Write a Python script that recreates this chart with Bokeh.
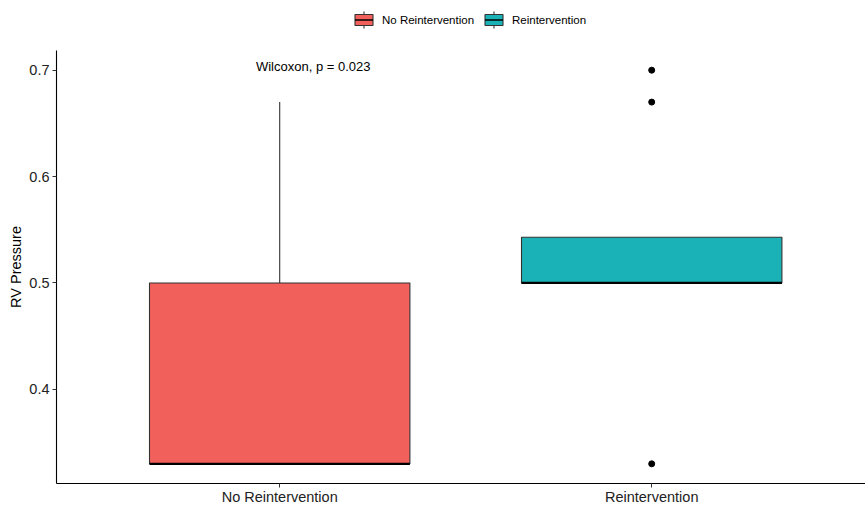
from bokeh.plotting import figure
from bokeh.layouts import column
from bokeh.models import ColumnDataSource, FixedTicker, Range1d
from bokeh.embed import file_html
from bokeh.resources import INLINE
from bokeh.core.properties import value

# ---- data ----
groups = ["No Reintervention", "Reintervention"]
group_pos = [1, 2]
q1 = [0.33, 0.50]
median = [0.33, 0.50]
q3 = [0.50, 0.543]
whisker_low = [0.33, 0.50]
whisker_high = [0.67, 0.543]
colors = ["#F2605B", "#1AB2B7"]
outlier_group = [2, 2, 2]
outlier_value = [0.70, 0.67, 0.33]
y_ticks = [0.4, 0.5, 0.6, 0.7]
annotation = "Wilcoxon, p = 0.023"

FONT = "Liberation Sans"
box_w = 0.70
W = 865
LEFT = 56

# ---------------- legend strip (pixel coordinates; frame aligned with main plot) ----------------
leg = figure(width=W, height=50, output_backend="svg", toolbar_location=None,
             x_range=Range1d(LEFT, W), y_range=Range1d(50, 0),
             min_border=0, x_axis_location=None, y_axis_location=None)
leg.outline_line_color = None
leg.xgrid.visible = False
leg.ygrid.visible = False
key_x = [363.5, 493.5]
key_y = 19.5
lsrc = ColumnDataSource(dict(x=key_x, y=[key_y] * 2, color=colors, label=groups,
                             x0=[k - 9 for k in key_x], x1=[k + 9 for k in key_x],
                             tx=[k + 18 for k in key_x]))
leg.segment(x0="x", y0=key_y - 8.5, x1="x", y1=key_y + 8.5, source=lsrc,
            line_color="#333333", line_width=1.1)
leg.rect(x="x", y="y", width=18, height=11, source=lsrc, fill_color="color",
         line_color="#333333", line_width=1.1)
leg.segment(x0="x0", y0="y", x1="x1", y1="y", source=lsrc, line_color="black", line_width=1.6)
leg.text(x="tx", y="y", text="label", source=lsrc, text_baseline="middle", text_align="left",
         text_font=value(FONT), text_font_size="11.5px", text_color="black")

# ---------------- main plot ----------------
p = figure(width=W, height=457, output_backend="svg", toolbar_location=None,
           x_range=Range1d(0.4, 2.5747), y_range=Range1d(0.3115, 0.7185),
           min_border_left=LEFT, min_border_right=0, min_border_top=0, min_border_bottom=22)
p.outline_line_color = None
p.background_fill_color = "white"
p.xgrid.visible = False
p.ygrid.visible = False

src = ColumnDataSource(dict(x=group_pos, q1=q1, med=median, q3=q3,
                            lo=whisker_low, hi=whisker_high, color=colors, name=groups,
                            mx0=[g - box_w / 2 for g in group_pos],
                            mx1=[g + box_w / 2 for g in group_pos]))

p.segment(x0="x", y0="q3", x1="x", y1="hi", source=src, line_color="#333333", line_width=1.1)
p.segment(x0="x", y0="lo", x1="x", y1="q1", source=src, line_color="#333333", line_width=1.1)
p.vbar(x="x", top="q3", bottom="q1", width=box_w, source=src,
       fill_color="color", line_color="#333333", line_width=1.1)
p.segment(x0="mx0", y0="med", x1="mx1", y1="med", source=src, line_color="black", line_width=2.2)

p.scatter(x=outlier_group, y=outlier_value, size=6, color="black")

p.text(x=[1.09], y=[0.703], text=[annotation], text_align="center", text_baseline="middle",
       text_font=value(FONT), text_font_size="13px", text_color="black")

p.xaxis.ticker = FixedTicker(ticks=group_pos)
p.xaxis.major_label_overrides = {g: n for g, n in zip(group_pos, groups)}
p.yaxis.ticker = FixedTicker(ticks=y_ticks)
p.yaxis.axis_label = "RV Pressure"
for ax in (p.xaxis, p.yaxis):
    ax.axis_line_color = "black"
    ax.axis_line_width = 1.1
    ax.major_tick_line_color = "#333333"
    ax.major_tick_out = 4
    ax.major_tick_in = 0
    ax.minor_tick_line_color = None
    ax.major_label_text_font = FONT
    ax.major_label_text_font_size = "14.5px"
    ax.major_label_text_color = "#222222"
    ax.axis_label_text_font = FONT
    ax.axis_label_text_font_size = "14.5px"
    ax.axis_label_text_font_style = "normal"
    ax.axis_label_text_color = "black"
p.xaxis.major_label_standoff = 1
p.yaxis.major_label_standoff = 3
p.yaxis.axis_label_standoff = 2

layout = column(leg, p, spacing=0)
open("out.html", "w").write(file_html(layout, INLINE))
